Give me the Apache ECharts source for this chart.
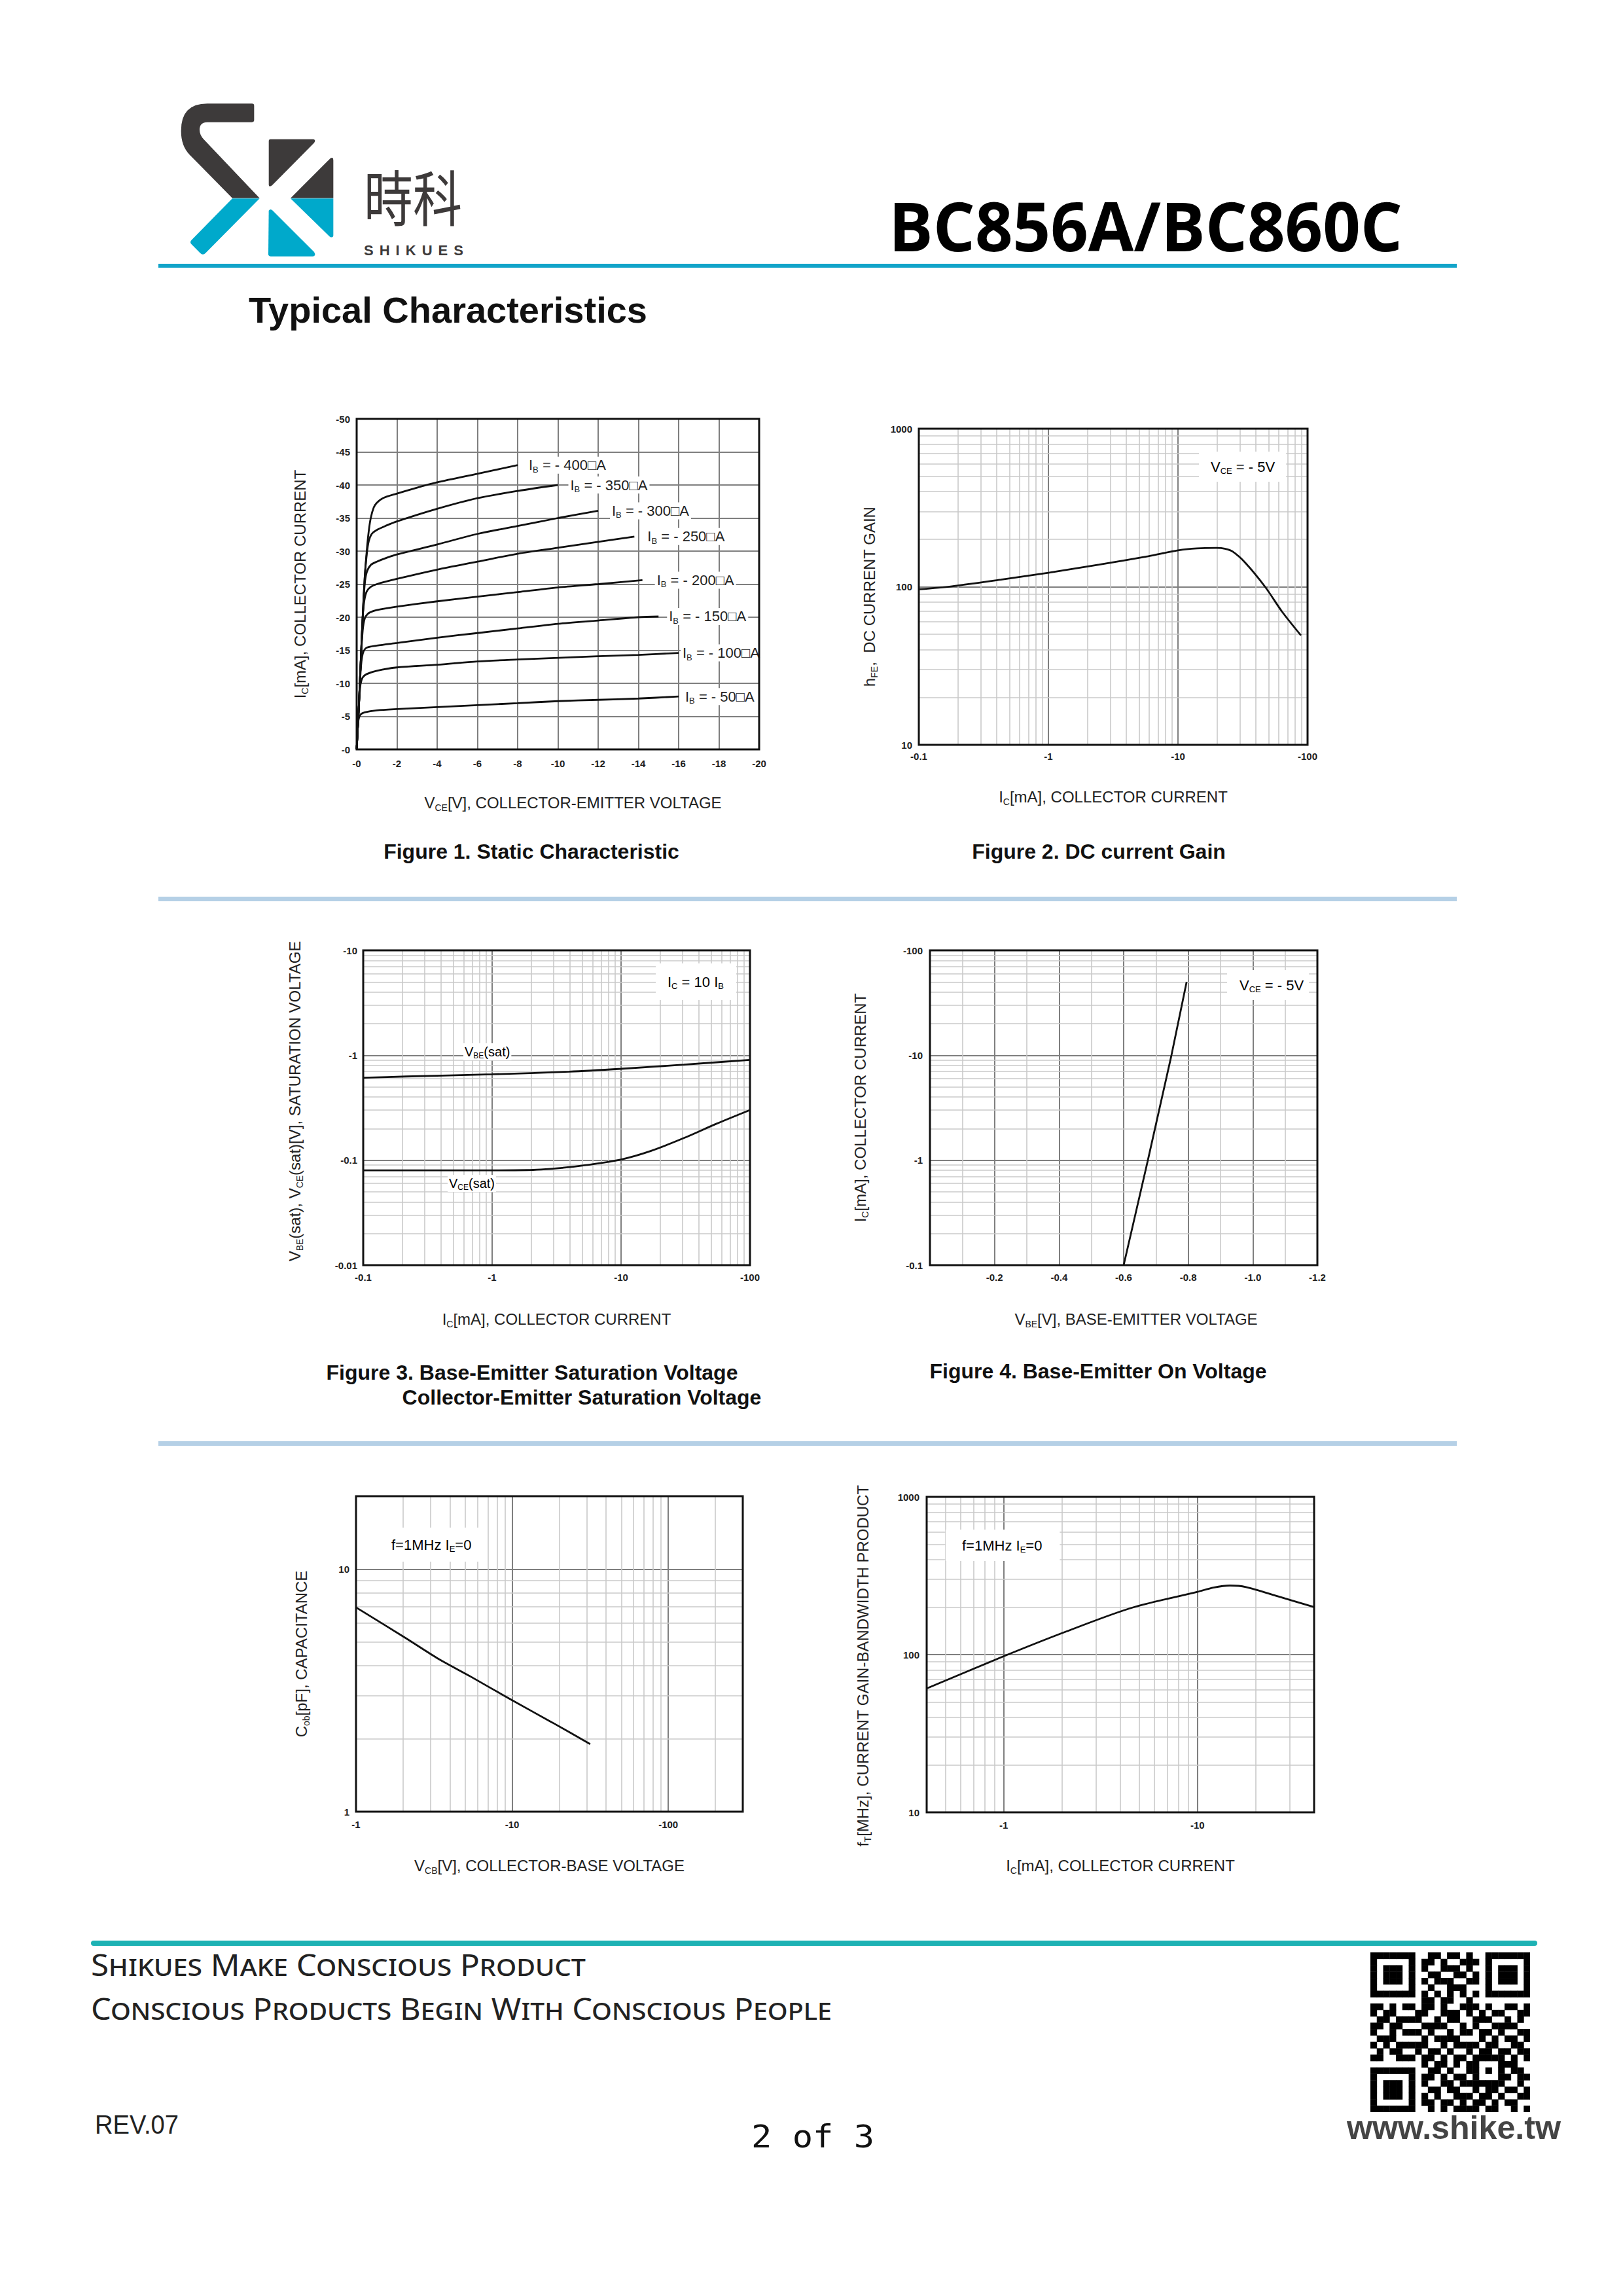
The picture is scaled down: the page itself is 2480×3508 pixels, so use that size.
<!DOCTYPE html>
<html lang="en">
<head>
<meta charset="utf-8">
<title>BC856A/BC860C – Typical Characteristics</title>
<script src="https://cdn.jsdelivr.net/npm/echarts@6.0.0/dist/echarts.min.js"></script>
<style>
  html, body { margin:0; padding:0; background:#fff; }
  #page { position:relative; width:2480px; height:3508px; background:#fff; overflow:hidden; }
  #chart { position:absolute; left:0; top:0; width:2480px; height:3508px; }
  .t { position:absolute; white-space:nowrap; line-height:1; transform-origin:0 0; margin:0; }
  .rule { position:absolute; }
</style>
</head>
<body>
<div id="page">
  <div id="chart"></div>

  <!-- logo -->
  <svg style="position:absolute;left:0;top:0" width="800" height="420">
    <g transform="translate(250,140) scale(0.33333)">
      <path fill="#3d3a3a" d="M200 55 L405 55 Q415 55 415 65 L415 130 Q415 140 405 140 L200 140 Q165 140 165 175 Q165 200 185 220 L440 488 L315 488 L120 290 Q80 250 80 180 Q80 55 200 55 Z"/>
      <path fill="#00a9cb" d="M315 490 L440 490 L192 740 Q180 752 168 740 L128 700 Q118 690 128 680 Z"/>
      <path fill="#3d3a3a" d="M490 218 L685 218 Q700 220 690 235 L497 430 Q482 440 482 425 L482 228 Q482 218 490 218 Z"/>
      <path fill="#3d3a3a" d="M582 488 L765 305 Q778 298 778 315 L778 488 Z"/>
      <path fill="#00a9cb" d="M582 490 L778 490 L778 660 Q776 672 762 665 Z"/>
      <path fill="#00a9cb" d="M482 545 Q490 535 500 545 L690 735 Q700 752 685 755 L492 755 Q480 755 480 745 Z"/>
    </g>
  </svg>
  <div class="t" data-w="150" style="left:556px;top:252px;font-size:92px;font-family:'Noto Sans CJK TC','Noto Sans CJK SC',sans-serif;color:#3d3a3a;">時科</div>
  <div class="t" data-w="161" style="left:556px;top:370px;font:bold 22px 'Liberation Sans',Arial,sans-serif;letter-spacing:9px;color:#3d3a3a;">SHIKUES</div>
  <div class="t" data-w="785" style="left:1358px;top:273px;font:bold 104px 'Open Sans','DejaVu Sans',sans-serif;color:#000;">BC856A/BC860C</div>
  <div class="rule" style="left:242px;top:403px;width:1984px;height:6px;background:#12a4c9;"></div>
  <div class="t" data-w="609" style="left:380px;top:441px;font:bold 56px 'Liberation Sans',Arial,sans-serif;color:#111;">Typical Characteristics</div>

  <div class="rule" style="left:242px;top:1370px;width:1984px;height:7px;background:#b5d0e6;"></div>
  <div class="rule" style="left:242px;top:2202px;width:1984px;height:7px;background:#b5d0e6;"></div>

  <!-- footer -->
  <div class="rule" style="left:139px;top:2965px;width:2210px;height:8px;border-radius:4px;background:#1db2b4;"></div>
  <div class="t" data-w="756" style="left:139px;top:2970px;font:46px 'Noto Sans','Open Sans',sans-serif;font-variant:small-caps;color:#222;">Shikues Make Conscious Product</div>
  <div class="t" data-w="1132" style="left:139px;top:3037px;font:46px 'Noto Sans','Open Sans',sans-serif;font-variant:small-caps;color:#222;">Conscious Products Begin With Conscious People</div>
  <div class="t" data-w="128" style="left:145px;top:3224px;font:40px 'Liberation Sans',Arial,sans-serif;color:#222;">REV.07</div>
  <div class="t" data-w="188" style="left:1148px;top:3236px;font:48px 'DejaVu Sans Mono',monospace;color:#111;">2 of 3</div>
  <div class="t" data-w="327" style="left:2058px;top:3222px;font:bold 50px 'Liberation Sans',Arial,sans-serif;color:#444;">www.shike.tw</div>
  <svg id="qr" style="position:absolute;left:2094px;top:2983px" width="244" height="244"></svg>
</div>

<script>
// ======================= DATA =======================
// All currents / voltages of this PNP device are negative; arrays hold magnitudes,
// the minus sign is added by the tick-label formatters.

// Figure 1 – Static characteristic: [|VCE| V, |IC| mA] per base current |IB| (µA)
const fig1BaseCurrents = ['400', '350', '300', '250', '200', '150', '100', '50'];
const fig1Curve400 = [[0,0],[0.05,3],[0.1,6],[0.2,13],[0.3,20],[0.4,26],[0.5,30],[0.6,33],[0.7,35],[0.85,36.6],[1.0,37.3],[1.3,38.0],[2,38.7],[3,39.6],[4,40.4],[6,41.7],[8,43.0]];
const fig1Curve350 = [[0,0],[0.05,3],[0.1,6],[0.2,13],[0.3,20],[0.4,26],[0.5,29.5],[0.6,31.5],[0.75,32.6],[1,33.2],[1.5,33.9],[2,34.5],[4,36.4],[6,38.0],[8,39.1],[10,40.0]];
const fig1Curve300 = [[0,0],[0.05,3],[0.1,6],[0.2,13],[0.3,20],[0.4,25],[0.5,26.8],[0.7,27.9],[1.0,28.4],[1.5,29.0],[2,29.5],[4,31.0],[6,32.6],[8,33.8],[10,35.0],[12,36.1]];
const fig1Curve250 = [[0,0],[0.05,3],[0.1,6],[0.2,13],[0.3,20],[0.38,22.5],[0.5,23.9],[0.7,24.6],[1,25.0],[2,25.8],[4,27.2],[6,28.4],[8,29.6],[10,30.5],[12,31.4],[13.8,32.2]];
const fig1Curve200 = [[0,0],[0.05,3],[0.1,6],[0.2,13],[0.3,18],[0.4,19.8],[0.55,20.5],[0.8,20.9],[1.2,21.2],[2,21.6],[4,22.4],[6,23.1],[8,23.8],[10,24.5],[12,25.0],[14.2,25.6]];
const fig1Curve150 = [[0,0],[0.05,3],[0.1,6],[0.2,12],[0.27,14],[0.35,14.9],[0.5,15.4],[1,15.7],[2,16.1],[4,16.9],[6,17.6],[8,18.3],[10,19.0],[12,19.5],[14,20.0],[15,20.1]];
const fig1Curve100 = [[0,0],[0.05,3],[0.1,6],[0.15,8.5],[0.2,10],[0.3,10.9],[0.5,11.4],[1,11.9],[2,12.4],[4,12.8],[6,13.3],[8,13.6],[10,13.85],[12,14.1],[14,14.3],[16,14.6]];
const fig1Curve50  = [[0,0],[0.05,3],[0.1,4.6],[0.2,5.3],[0.4,5.6],[1,5.9],[2,6.1],[4,6.4],[6,6.7],[8,7.0],[10,7.3],[12,7.5],[14,7.7],[16,8.0]];
const fig1XTicks = [0, 2, 4, 6, 8, 10, 12, 14, 16, 18, 20];
const fig1YTicks = [0, 5, 10, 15, 20, 25, 30, 35, 40, 45, 50];

// Figure 2 – DC current gain: |IC| mA -> hFE  (VCE = -5 V)
const fig2Ic  = [0.1, 0.18, 0.43, 1.0, 2.47, 5.9, 10, 14, 19.9, 23, 26.4, 33.3, 47.3, 63.4, 89];
const fig2Hfe = [96.4, 100.7, 110.9, 122.7, 138, 156, 170, 175, 176, 174, 167, 141, 99.3, 69.8, 49.2];
const fig2XTicks = [0.1, 1, 10, 100];
const fig2YTicks = [10, 100, 1000];
const fig2XMinor = [0.2,0.3,0.4,0.5,0.6,0.7,0.8,0.9, 2,3,4,5,6,7,8,9, 20,30,40,50,60,70,80,90];
const fig2YMinor = [20,30,40,50,60,70,80,90, 200,300,400,500,600,700,800,900];

// Figure 3 – saturation voltages: |IC| mA -> |V| (IC = 10 IB)
const fig3IcBe  = [0.1, 0.214, 1, 3.95, 10, 30.7, 100];
const fig3VbeSat = [0.611, 0.628, 0.659, 0.698, 0.743, 0.814, 0.905];
const fig3IcCe  = [0.1, 0.688, 1.86, 3.55, 5.34, 10, 17.1, 30.7, 55, 100];
const fig3VceSat = [0.080, 0.080, 0.0805, 0.0847, 0.0897, 0.1016, 0.1228, 0.1626, 0.2228, 0.301];
const fig3XTicks = [0.1, 1, 10, 100];
const fig3YTicks = [0.01, 0.1, 1, 10];
const fig3XMinor = [0.2,0.3,0.4,0.5,0.6,0.7,0.8,0.9, 2,3,4,5,6,7,8,9, 20,30,40,50,60,70,80,90];
const fig3YMinor = [0.02,0.03,0.04,0.05,0.06,0.07,0.08,0.09, 0.2,0.3,0.4,0.5,0.6,0.7,0.8,0.9, 2,3,4,5,6,7,8,9];

// Figure 4 – base-emitter on voltage: |VBE| V -> |IC| mA (VCE = -5 V)
const fig4Vbe = [0.6, 0.675, 0.748, 0.795];
const fig4Ic  = [0.1, 1, 10, 50];
const fig4XTicks = [0, 0.2, 0.4, 0.6, 0.8, 1.0, 1.2];
const fig4YTicks = [0.1, 1, 10, 100];
const fig4YMinor = [0.2,0.3,0.4,0.5,0.6,0.7,0.8,0.9, 2,3,4,5,6,7,8,9, 20,30,40,50,60,70,80,90];

// Figure 5 – output capacitance: |VCB| V -> Cob pF (f = 1 MHz, IE = 0)
const fig5Vcb = [1, 2.08, 3.37, 5.45, 10, 18.1, 31.6];
const fig5Cob = [6.96, 5.2, 4.27, 3.6, 2.88, 2.33, 1.9];
const fig5XRange = [1, 300];
const fig5YRange = [1, 20];
const fig5XTicks = [1, 10, 100];
const fig5YTicks = [1, 10];
const fig5XMinor = [2,3,4,5,6,7,8,9, 20,30,40,50,60,70,80,90, 200];
const fig5YMinor = [2,3,4,5,6,7,8,9];

// Figure 6 – gain-bandwidth product: |IC| mA -> fT MHz
const fig6Ic = [0.4, 1, 2.1, 4.58, 10, 12.1, 14.7, 17.8, 26.3, 40];
const fig6Ft = [61, 97.6, 140, 198, 250, 266, 274, 268, 233, 200];
const fig6XRange = [0.4, 40];
const fig6XTicks = [1, 10];
const fig6YTicks = [10, 100, 1000];
const fig6XMinor = [0.5,0.6,0.7,0.8,0.9, 2,3,4,5,6,7,8,9, 20,30];
const fig6YMinor = [20,30,40,50,60,70,80,90, 200,300,400,500,600,700,800,900];

// QR code modules (25 x 25)
const qrRows = [
 '1111111001101101001111111','1000001011010011101000001','1011101010011101001011101',
 '1011101001100110101011101','1011101010111001101011101','1000001001001110001000001',
 '1111111010101010101111111','0000000011011001000000000','1101011011010011101001101',
 '1011000110011101010110011','0110111100101100111001010','1101100011110010100111100',
 '1001011101001011011010011','0111000010111100010101101','1010111110010111101100110',
 '0101100101101001011011011','1100111011010110111110101','0000000010110101100011100',
 '1111111001101001101010110','1000001011010110100011011','1011101010011011111110010',
 '1011101001101100101101101','1011101010100111011010011','1000001011011010110101100',
 '1111111001010111101100101'
];

// ======================= LAYOUT / STYLE =======================
const FONT = "'Liberation Sans', Arial, Helvetica, sans-serif";
const INK = '#111';
const MAJOR = { color: '#7f7f7f', width: 2 };
const MINOR = { color: '#cacaca', width: 1.6 };
const tickLabel = { fontFamily: FONT, fontWeight: 'bold', fontSize: 15, color: '#1e1e1e' };
const nameRich = {
  n: { fontFamily: FONT, fontSize: 24, color: '#222', lineHeight: 30, verticalAlign: 'middle' },
  s: { fontFamily: FONT, fontSize: 14, color: '#222', lineHeight: 14, verticalAlign: 'bottom' }
};
const annRich = {
  n: { fontFamily: FONT, fontSize: 22, color: '#222', lineHeight: 26, verticalAlign: 'middle' },
  s: { fontFamily: FONT, fontSize: 13, color: '#222', lineHeight: 13, verticalAlign: 'bottom' }
};
const smallRich = {
  n: { fontFamily: FONT, fontSize: 20, color: '#333', lineHeight: 24, verticalAlign: 'middle' },
  s: { fontFamily: FONT, fontSize: 12, color: '#333', lineHeight: 12, verticalAlign: 'bottom' }
};

const gridBoxes = [
  { left: 545,  top: 640,  width: 615, height: 505 },
  { left: 1404, top: 655,  width: 594, height: 483 },
  { left: 555,  top: 1452, width: 591, height: 481 },
  { left: 1421, top: 1452, width: 592, height: 481 },
  { left: 544,  top: 2286, width: 591, height: 482 },
  { left: 1416, top: 2287, width: 592, height: 482 }
];

function onTick(ticks, v) { return ticks.find(t => Math.abs(t - v) <= Math.abs(t) * 1e-6 + 1e-9); }
function decadeText(t) { return t < 1 ? t.toFixed(Math.round(-Math.log10(t))) : String(t); }
function logFormatter(ticks, neg) {
  return v => { const t = onTick(ticks, v); return t === undefined ? '' : (neg ? '-' : '') + decadeText(t); };
}

function baseAxis(gridIndex, name, gap, pad, margin) {
  return {
    gridIndex, name, nameLocation: 'middle', nameGap: gap,
    nameTextStyle: { rich: nameRich, padding: pad },
    axisLine: { show: false }, axisTick: { show: false },
    splitLine: { show: true, lineStyle: MAJOR },
    axisLabel: Object.assign({}, tickLabel, { margin })
  };
}
function logAxis(gridIndex, range, ticks, neg, name, gap, pad, margin) {
  const a = baseAxis(gridIndex, name, gap, pad, margin);
  a.type = 'log'; a.logBase = 10; a.min = range[0]; a.max = range[1];
  a.axisLabel.formatter = logFormatter(ticks, neg);
  return a;
}
function linAxis(gridIndex, ticks, name, gap, pad, margin, fmt) {
  const a = baseAxis(gridIndex, name, gap, pad, margin);
  a.type = 'value'; a.min = ticks[0]; a.max = ticks[ticks.length - 1]; a.interval = ticks[1] - ticks[0];
  a.axisLabel.formatter = fmt;
  return a;
}
function zip(xs, ys) { return xs.map((x, i) => [x, ys[i]]); }
function curve(idx, data, extra) {
  return Object.assign({
    type: 'line', xAxisIndex: idx, yAxisIndex: idx, data, symbol: 'none', showSymbol: false,
    smooth: 0.3, silent: true, z: 5,
    lineStyle: { color: INK, width: 2.8 }
  }, extra || {});
}
function minorGrid(idx, xs, ys) {
  return {
    type: 'line', xAxisIndex: idx, yAxisIndex: idx, data: [], symbol: 'none', silent: true, z: 1,
    markLine: {
      silent: true, z: 1, symbol: ['none', 'none'], label: { show: false }, animation: false,
      emphasis: { disabled: true },
      lineStyle: { color: MINOR.color, width: MINOR.width, type: 'solid' },
      data: xs.map(v => ({ xAxis: v })).concat(ys.map(v => ({ yAxis: v })))
    }
  };
}

const xAxes = [
  linAxis(0, fig1XTicks, '{n|V}{s|CE}{n|[V], COLLECTOR-EMITTER VOLTAGE}', 66, [0, 0, 0, 46], 14, v => '-' + v),
  logAxis(1, [0.1, 100], fig2XTicks, true, '{n|I}{s|C}{n|[mA], COLLECTOR CURRENT}', 64, 0, 10),
  logAxis(2, [0.1, 100], fig3XTicks, true, '{n|I}{s|C}{n|[mA], COLLECTOR CURRENT}', 67, 0, 11),
  linAxis(3, fig4XTicks, '{n|V}{s|BE}{n|[V], BASE-EMITTER VOLTAGE}', 67, [0, 0, 0, 38], 11,
          v => (v === 0 ? '' : '-' + v.toFixed(1))),
  logAxis(4, fig5XRange, fig5XTicks, true, '{n|V}{s|CB}{n|[V], COLLECTOR-BASE VOLTAGE}', 67, 0, 12),
  logAxis(5, fig6XRange, fig6XTicks, true, '{n|I}{s|C}{n|[mA], COLLECTOR CURRENT}', 66, 0, 12)
];
xAxes[3].minorTick = { show: false, splitNumber: 2 };
xAxes[3].minorSplitLine = { show: true, lineStyle: MINOR };

const yAxes = [
  linAxis(0, fig1YTicks, '{n|I}{s|C}{n|[mA], COLLECTOR CURRENT}', 72, 0, 10, v => '-' + v),
  logAxis(1, [10, 1000], fig2YTicks, false, '{n|h}{s|FE}{n|,  DC CURRENT GAIN}', 61, [0, 30, 0, 0], 10),
  logAxis(2, [0.01, 10], fig3YTicks, true, '{n|V}{s|BE}{n|(sat), V}{s|CE}{n|(sat)[V], SATURATION VOLTAGE}', 90, [0, 0, 0, 20], 9),
  logAxis(3, [0.1, 100], fig4YTicks, true, '{n|I}{s|C}{n|[mA], COLLECTOR CURRENT}', 92, 0, 11),
  logAxis(4, fig5YRange, fig5YTicks, false, '{n|C}{s|ob}{n|[pF], CAPACITANCE}', 69, 0, 10),
  logAxis(5, [10, 1000], fig6YTicks, false, '{n|f}{s|T}{n|[MHz], CURRENT GAIN-BANDWIDTH PRODUCT}', 83, [0, 34, 0, 0], 11)
];

const fig1Curves = [fig1Curve400, fig1Curve350, fig1Curve300, fig1Curve250, fig1Curve200, fig1Curve150, fig1Curve100, fig1Curve50];
const fig1LabelGap = [14, 16, 18, 17, 19, 13, 3, 7];

const series = [
  minorGrid(1, fig2XMinor, fig2YMinor),
  minorGrid(2, fig3XMinor, fig3YMinor),
  minorGrid(3, [], fig4YMinor),
  minorGrid(4, fig5XMinor, fig5YMinor),
  minorGrid(5, fig6XMinor, fig6YMinor)
];
fig1Curves.forEach((c, i) => series.push(curve(0, c, {
  smooth: 0.3,
  endLabel: {
    show: true, distance: fig1LabelGap[i], backgroundColor: '#fff', padding: [0, 3],
    formatter: () => '{n|I}{s|B}{n| = - ' + fig1BaseCurrents[i] + '\u25A1A}', rich: annRich
  }
})));
series.push(curve(1, zip(fig2Ic, fig2Hfe)));
series.push(curve(2, zip(fig3IcBe, fig3VbeSat)));
series.push(curve(2, zip(fig3IcCe, fig3VceSat)));
series.push(curve(3, zip(fig4Vbe, fig4Ic), { smooth: false }));
series.push(curve(4, zip(fig5Vcb, fig5Cob)));
series.push(curve(5, zip(fig6Ic, fig6Ft)));

function txt(text, x, y, rich, opts) {
  const style = Object.assign({
    text, x, y, rich, align: 'left', verticalAlign: 'middle', textAlign: 'left', textVerticalAlign: 'middle'
  }, opts || {});
  return { type: 'text', z: 4, silent: true, style };
}
function caption(text, cx, cy) {
  return { type: 'text', z: 4, silent: true, style: {
    text, x: cx, y: cy, align: 'center', verticalAlign: 'middle', textAlign: 'center', textVerticalAlign: 'middle',
    fontFamily: FONT, fontWeight: 'bold', fontSize: 32, fill: '#111'
  } };
}
const graphics = [
  caption('Figure 1. Static Characteristic', 812, 1301),
  caption('Figure 2. DC current Gain', 1679, 1301),
  caption('Figure 3. Base-Emitter Saturation Voltage', 813, 2097),
  caption('Collector-Emitter Saturation Voltage', 889, 2135),
  caption('Figure 4. Base-Emitter On Voltage', 1678, 2095),
  txt('{n|V}{s|CE}{n| = - 5V}', 1832, 713, annRich, { backgroundColor: '#fff', padding: [10, 17, 10, 18] }),
  txt('{n|I}{s|C}{n| = 10 I}{s|B}', 1002, 1500, annRich, { backgroundColor: '#fff', padding: [15, 19, 15, 18] }),
  txt('{n|V}{s|CE}{n| = - 5V}', 1875, 1505, annRich, { backgroundColor: '#fff', padding: [10, 8, 10, 19] }),
  txt('{n|f=1MHz I}{s|E}{n|=0}', 585, 2360, annRich, { backgroundColor: '#fff', padding: [13, 19, 13, 13] }),
  txt('{n|f=1MHz I}{s|E}{n|=0}', 1445, 2361, annRich, { backgroundColor: '#fff', padding: [11, 27, 11, 25] }),
  txt('{n|V}{s|BE}{n|(sat)}', 708, 1607, smallRich, { backgroundColor: '#fff', padding: [1, 2] }),
  txt('{n|V}{s|CE}{n|(sat)}', 684, 1808, smallRich, { backgroundColor: '#fff', padding: [1, 2] })
];

const chart = echarts.init(document.getElementById('chart'), null, { renderer: 'svg', width: 2480, height: 3508 });
chart.setOption({
  animation: false,
  backgroundColor: 'transparent',
  textStyle: { fontFamily: FONT },
  grid: gridBoxes.map(b => Object.assign({
    show: true, borderColor: INK, borderWidth: 3, backgroundColor: 'transparent', z: 8,
    containLabel: false, outerBoundsMode: 'none'
  }, b)),
  xAxis: xAxes,
  yAxis: yAxes,
  series,
  graphic: { elements: graphics }
});

// ---- QR code ----
(function () {
  const svg = document.getElementById('qr');
  const m = 244 / 25;
  let html = '';
  qrRows.forEach((row, r) => {
    for (let c = 0; c < row.length; c++) {
      if (row[c] === '1') html += '<rect x="' + (c * m).toFixed(2) + '" y="' + (r * m).toFixed(2) +
        '" width="' + (m + 0.4).toFixed(2) + '" height="' + (m + 0.4).toFixed(2) + '" fill="#000"/>';
    }
  });
  svg.innerHTML = html;
})();

// ---- fit header/footer texts to their measured widths ----
function fitText() {
  document.querySelectorAll('.t[data-w]').forEach(el => {
    el.style.transform = 'none';
    const w = el.getBoundingClientRect().width;
    const tw = parseFloat(el.dataset.w);
    if (w > 0) el.style.transform = 'scaleX(' + (tw / w).toFixed(4) + ')';
  });
}
fitText();
if (document.fonts && document.fonts.ready) document.fonts.ready.then(fitText);
</script>
</body>
</html>
